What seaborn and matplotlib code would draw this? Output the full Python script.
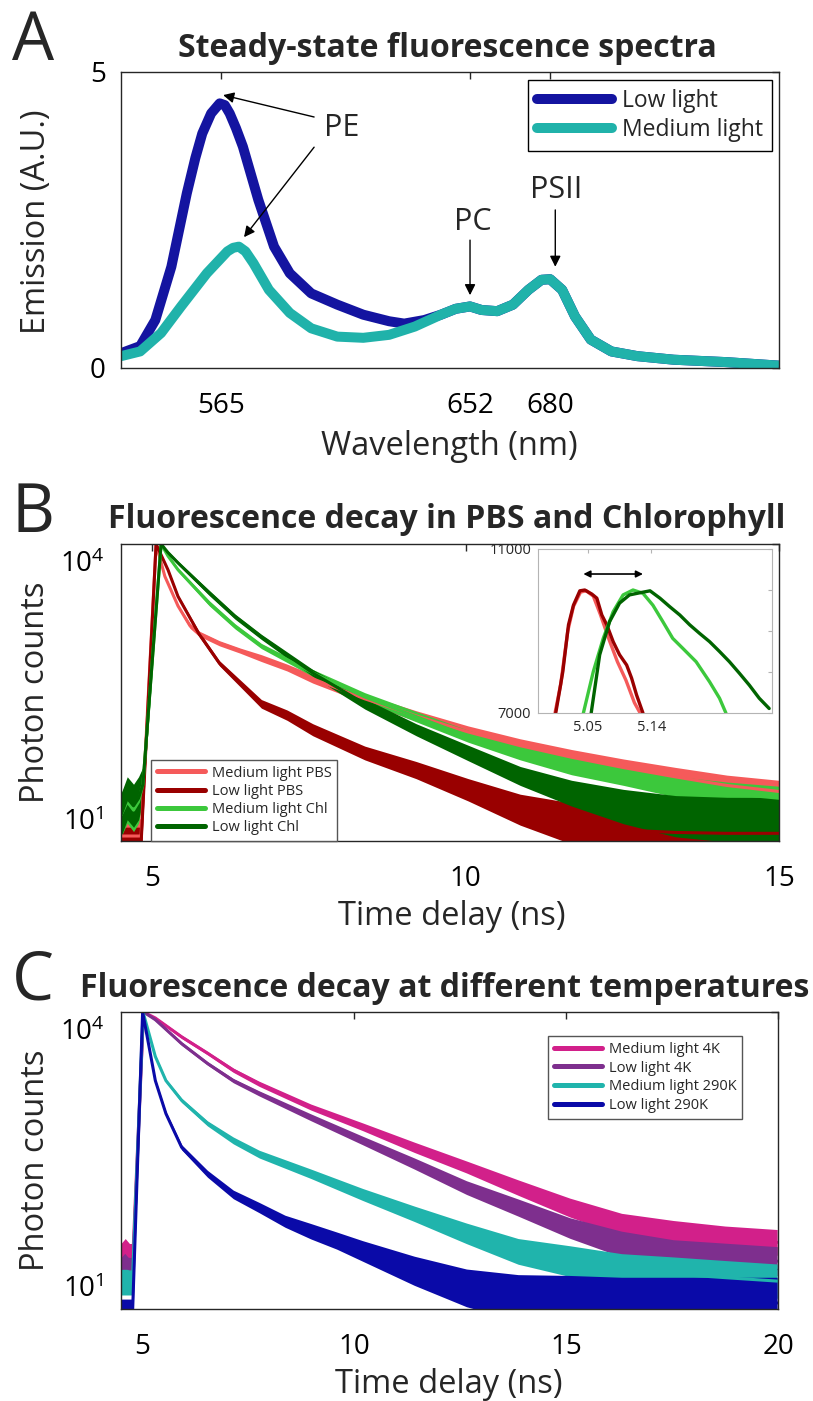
import numpy as np
import matplotlib
matplotlib.use('Agg')
import matplotlib.pyplot as plt
import matplotlib.transforms as mtransforms
from matplotlib.lines import Line2D
from matplotlib.ticker import NullLocator
import seaborn as sns

# ---------------- Panel A: steady-state spectra ----------------
wl_low = [530, 536.7, 542, 547.6, 553, 556, 558.4, 561.5, 564.5, 566.3, 568, 570.2, 572.6,
          578, 583.5, 589, 596.5, 605.6, 614.7, 623.7, 629, 636, 641.8, 647, 652, 656,
          661.5, 667, 672.4, 677, 680, 684.2, 688.7, 694.2, 701.4, 710.5, 723.2, 741.3, 760]
em_low = [0.25, 0.37, 0.81, 1.71, 2.95, 3.55, 3.96, 4.30, 4.47, 4.44, 4.30, 4.05, 3.74,
          2.84, 2.05, 1.60, 1.26, 1.07, 0.90, 0.79, 0.75, 0.81, 0.90, 1.0, 1.04, 0.98,
          0.96, 1.07, 1.32, 1.49, 1.50, 1.32, 0.87, 0.48, 0.28, 0.20, 0.14, 0.10, 0.04]
wl_med = [530, 536.7, 544, 551, 560, 567.2, 569.2, 571.2, 573.5, 576.3, 581.7, 589, 596.5,
          605.6, 614.7, 623.7, 632.7, 641.8, 647, 652, 656, 661.5, 667, 672.4, 677, 680,
          684.2, 688.7, 694.2, 701.4, 710.5, 723.2, 741.3, 760]
em_med = [0.20, 0.28, 0.59, 1.04, 1.60, 1.97, 2.03, 2.05, 1.97, 1.77, 1.32, 0.93, 0.67,
          0.53, 0.51, 0.56, 0.70, 0.90, 1.0, 1.04, 0.98, 0.96, 1.07, 1.32, 1.49, 1.50,
          1.32, 0.87, 0.48, 0.28, 0.20, 0.14, 0.10, 0.04]
wl_ticks = [565, 652, 680]

# ---------------- Panel B: decays in PBS / Chl ----------------
# counts, spread = half width of the noise band (decades)
t_mp = [4.50, 4.82, 5.06, 5.20, 5.41, 5.60, 5.74, 6.07, 6.40, 6.74, 7.15, 7.56, 8.39,
        9.21, 10.04, 10.87, 11.69, 12.52, 13.35, 14.17, 15.0]
n_mp = [4, 4, 10000, 4200, 1900, 1120, 910, 700, 575, 470, 365, 270, 158,
        100, 65, 45, 33, 25, 19.5, 15.5, 13.2]
s_mp = [0.2, 0.2, 0.0, 0.02, 0.02, 0.03, 0.03, 0.03, 0.03, 0.04, 0.04, 0.05, 0.05,
        0.06, 0.07, 0.08, 0.09, 0.10, 0.11, 0.12, 0.13]

t_lp = [4.50, 4.82, 5.06, 5.25, 5.41, 5.74, 6.07, 6.40, 6.74, 7.15, 7.56, 8.39, 9.21,
        10.04, 10.87, 11.69, 12.52, 13.35, 14.17, 15.0]
n_lp = [3.2, 3.2, 10000, 5000, 2450, 910, 410, 240, 138, 102, 69, 37, 23.4,
        13.8, 8.1, 5.6, 4.7, 4.4, 4.3, 4.3]
s_lp = [0.2, 0.2, 0.0, 0.02, 0.02, 0.03, 0.03, 0.04, 0.05, 0.06, 0.07, 0.08, 0.10,
        0.13, 0.18, 0.24, 0.28, 0.3, 0.3, 0.3]

t_mc = [4.50, 4.60, 4.70, 4.78, 4.85, 5.14, 5.25, 5.41, 5.91, 6.32, 6.74, 7.56, 8.39,
        9.21, 10.04, 10.87, 11.69, 12.52, 13.35, 14.17, 15.0]
n_mc = [7, 10, 8, 10, 16, 10000, 7240, 5010, 2040, 1100, 650, 316, 166,
        98, 58, 37, 26, 20, 15, 12.6, 11]
s_mc = [0.25, 0.25, 0.25, 0.25, 0.2, 0.0, 0.02, 0.02, 0.03, 0.03, 0.03, 0.04, 0.05,
        0.06, 0.07, 0.08, 0.10, 0.11, 0.12, 0.13, 0.14]

t_lc = [4.50, 4.60, 4.70, 4.78, 4.85, 5.14, 5.25, 5.41, 5.91, 6.32, 6.74, 7.56, 8.39,
        9.21, 10.04, 10.87, 11.69, 12.52, 13.35, 14.17, 15.0]
n_lc = [7, 11, 9, 11, 16, 10000, 7940, 6030, 2690, 1430, 830, 316, 138,
        69, 37, 20, 12.6, 8.8, 6.8, 6.2, 5.9]
s_lc = [0.25, 0.25, 0.25, 0.25, 0.2, 0.0, 0.02, 0.02, 0.03, 0.03, 0.03, 0.04, 0.06,
        0.07, 0.09, 0.11, 0.15, 0.20, 0.24, 0.26, 0.28]

# inset (linear counts around the peak)
ti_lp = [5.005, 5.011, 5.015, 5.023, 5.030, 5.039, 5.046, 5.056, 5.063, 5.070, 5.077,
         5.086, 5.095, 5.105, 5.112, 5.119, 5.128]
ni_lp = [7000, 7600, 8010, 9150, 9630, 9980, 10000, 9900, 9800, 9390, 9150,
         8740, 8420, 8170, 7850, 7440, 7000]
ti_mp = [5.004, 5.012, 5.022, 5.030, 5.040, 5.048, 5.058, 5.068, 5.080, 5.092, 5.104,
         5.116, 5.124]
ni_mp = [7000, 7700, 9000, 9600, 9950, 9980, 9850, 9400, 8800, 8250, 7800, 7250, 7000]
ti_mc = [5.044, 5.058, 5.072, 5.086, 5.100, 5.114, 5.128, 5.142, 5.156, 5.170, 5.184,
         5.203, 5.222, 5.236, 5.245]
ni_mc = [7000, 8010, 8820, 9470, 9880, 10000, 9920, 9630, 9230, 8820, 8580, 8250,
         7760, 7360, 7000]
ti_lc = [5.055, 5.067, 5.081, 5.095, 5.109, 5.123, 5.138, 5.152, 5.166, 5.180, 5.194,
         5.208, 5.222, 5.236, 5.250, 5.264, 5.278, 5.292, 5.306]
ni_lc = [7000, 8420, 9230, 9680, 9880, 9930, 9980, 9800, 9590, 9390, 9150, 8940,
         8740, 8500, 8250, 7970, 7680, 7360, 7110]

# ---------------- Panel C: decays at 4K / 290K ----------------
t_4k = [4.50, 4.60, 4.70, 4.78, 5.03, 5.31, 5.93, 6.54, 7.15, 7.76, 8.98, 10.20, 11.42,
        12.65, 13.87, 15.09, 16.31, 17.53, 18.75, 19.98]
n_m4 = [14, 16, 14, 14, 10000, 8510, 5130, 3310, 2090, 1450, 776, 457, 263,
        155, 89, 52, 33, 26, 22.4, 20.4]
s_m4 = [0.15, 0.15, 0.15, 0.15, 0.0, 0.015, 0.02, 0.02, 0.025, 0.03, 0.035, 0.045, 0.06,
        0.07, 0.09, 0.11, 0.13, 0.15, 0.15, 0.15]
n_l4 = [10, 11, 10, 10, 10000, 8130, 4270, 2510, 1580, 1120, 589, 316, 170,
        89, 52, 30, 19.5, 14.8, 13.5, 12.3]
s_l4 = [0.15, 0.15, 0.15, 0.15, 0.0, 0.015, 0.02, 0.02, 0.025, 0.03, 0.04, 0.05, 0.065,
        0.08, 0.10, 0.12, 0.15, 0.17, 0.17, 0.17]

t_m290 = [4.50, 4.60, 4.70, 4.77, 5.02, 5.31, 5.56, 5.93, 6.54, 7.15, 7.76, 8.98, 10.20,
          11.42, 12.65, 13.87, 15.09, 16.31, 17.53, 18.75, 19.98]
n_m290 = [7, 7, 7, 7, 10000, 3020, 1580, 930, 500, 316, 219, 129, 74,
          44, 26, 16, 12.3, 9.5, 8.7, 7.9, 7.2]
s_m290 = [0.15, 0.15, 0.15, 0.15, 0.0, 0.02, 0.02, 0.025, 0.03, 0.04, 0.045, 0.055, 0.07,
          0.09, 0.12, 0.15, 0.18, 0.2, 0.2, 0.2, 0.2]

t_l290 = [4.50, 4.77, 5.01, 5.31, 5.56, 5.93, 6.54, 7.15, 7.76, 8.37, 8.98, 9.59, 10.20,
          11.42, 12.65, 13.87, 15.09, 16.31, 17.53, 18.75, 19.98]
n_l290 = [2.8, 2.8, 10000, 1580, 650, 263, 129, 74, 52, 36, 27.5, 21.4, 16.2,
          9.5, 6.0, 4.6, 4.2, 4.0, 4.0, 4.0, 4.0]
s_l290 = [0.2, 0.2, 0.0, 0.02, 0.025, 0.03, 0.04, 0.05, 0.06, 0.07, 0.09, 0.10, 0.12,
          0.17, 0.22, 0.27, 0.3, 0.3, 0.3, 0.3, 0.3]

# colours
c_low_a, c_med_a = '#1414a0', '#20b2aa'
c_mp, c_lp, c_mc, c_lc = '#f55a5a', '#990000', '#3cc83c', '#006400'
c_m4, c_l4, c_m290, c_l290 = '#d2208a', '#7e2f8e', '#20b4ac', '#0a0aa8'

sns.set_theme(style='white')
plt.rcParams['font.family'] = ['Open Sans', 'DejaVu Sans']
plt.rcParams['mathtext.fontset'] = 'custom'
plt.rcParams['mathtext.rm'] = 'Open Sans'
plt.rcParams['mathtext.it'] = 'Open Sans:italic'
plt.rcParams['mathtext.bf'] = 'Open Sans:bold'

W, H = 813, 1401
fig = plt.figure(figsize=(W / 100, H / 100), dpi=100)


def px_axes(x0, y0, x1, y1):
    return fig.add_axes([x0 / W, 1 - y1 / H, (x1 - x0) / W, (y1 - y0) / H])


def fx(x):
    return x / W


def fy(y):
    return 1 - y / H


def style(ax, xpad=17, ypad=11):
    for s in ax.spines.values():
        s.set_visible(True)
        s.set_color('#262626')
        s.set_linewidth(1.0)
    ax.tick_params(direction='in', length=5, width=1, top=True, right=True,
                   color='#262626', labelsize=20, labelcolor='black')
    ax.tick_params(axis='x', pad=xpad)
    ax.tick_params(axis='y', pad=ypad)
    ax.grid(False)
    ax.set_facecolor('white')


def decay(ax, t, n, s, color, lw=2.2):
    t, n, s = np.array(t), np.array(n, float), np.array(s)
    ax.fill_between(t, n / 10 ** s, n * 10 ** s, color=color, lw=0)
    sns.lineplot(x=t, y=n, ax=ax, color=color, lw=lw, legend=False)


title_kw = dict(fontweight='bold', fontsize=23, ha='center', va='baseline')

# ---- A ----
axA = px_axes(121, 72, 779, 368)
style(axA)
sns.lineplot(x=wl_low, y=em_low, ax=axA, color=c_low_a, lw=7.2, legend=False,
             solid_joinstyle='round', solid_capstyle='butt')
sns.lineplot(x=wl_med, y=em_med, ax=axA, color=c_med_a, lw=7.2, legend=False,
             solid_joinstyle='round', solid_capstyle='butt')
axA.set_xlim(530, 760)
axA.set_ylim(0, 5)
axA.set_xticks(wl_ticks)
axA.set_yticks([0, 5])
axA.set_xlabel('')
axA.set_ylabel('')
arrow = dict(arrowstyle='-|>', color='black', lw=1.0, mutation_scale=16, shrinkA=0, shrinkB=0)
axA.text(607, 4.05, 'PE', fontsize=22, ha='center', va='center')
axA.annotate('', xy=(565.7, 4.61), xytext=(597.5, 4.24), arrowprops=arrow)
axA.annotate('', xy=(573, 2.21), xytext=(597.5, 3.73), arrowprops=arrow)
axA.text(652.8, 2.47, 'PC', fontsize=22, ha='center', va='center')
axA.annotate('', xy=(652, 1.23), xytext=(652, 2.16), arrowprops=arrow)
axA.text(682, 3.01, 'PSII', fontsize=22, ha='center', va='center')
axA.annotate('', xy=(681.8, 1.71), xytext=(681.8, 2.67), arrowprops=arrow)
legA = axA.legend([Line2D([], [], color=c_low_a, lw=7.2), Line2D([], [], color=c_med_a, lw=7.2)],
                  ['Low light', 'Medium light'], loc='upper right', bbox_to_anchor=(0.989, 0.973),
                  borderaxespad=0, fontsize=16.5, handlelength=3.3, handletextpad=0.4,
                  borderpad=0.4, labelspacing=0.22, frameon=True, fancybox=False,
                  edgecolor='black', framealpha=1)
legA.get_frame().set_linewidth(1.0)

# ---- B ----
axB = px_axes(121, 544, 779, 841)
style(axB, ypad=12)
axB.set_yscale('log')
decay(axB, t_mp, n_mp, s_mp, c_mp)
decay(axB, t_lp, n_lp, s_lp, c_lp)
decay(axB, t_mc, n_mc, s_mc, c_mc)
decay(axB, t_lc, n_lc, s_lc, c_lc)
axB.set_xlim(4.5, 15)
axB.set_ylim(3.5, 1e4)
axB.set_xticks([5, 10, 15])
axB.set_yticks([10, 1e4])
axB.yaxis.set_minor_locator(NullLocator())
axB.set_xlabel('')
axB.set_ylabel('')
legB = axB.legend([Line2D([], [], color=c, lw=3.6) for c in (c_mp, c_lp, c_mc, c_lc)],
                  ['Medium light PBS', 'Low light PBS', 'Medium light Chl', 'Low light Chl'],
                  loc='lower left', bbox_to_anchor=(0.046, 0.0), borderaxespad=0, fontsize=10.5,
                  handlelength=3.3, handletextpad=0.45, borderpad=0.4, labelspacing=0.22,
                  frameon=True, fancybox=False, edgecolor='#555555', framealpha=1)
legB.get_frame().set_linewidth(1.0)

# inset
axI = px_axes(538, 549, 772, 713)
for s in axI.spines.values():
    s.set_visible(True)
    s.set_color('#b4b4b4')
    s.set_linewidth(0.8)
axI.tick_params(direction='in', length=3, width=0.8, top=True, right=True, color='#b4b4b4',
                labelsize=10.5, labelcolor='#262626', pad=5)
sns.lineplot(x=ti_mp, y=ni_mp, ax=axI, color=c_mp, lw=2.4, legend=False)
sns.lineplot(x=ti_lp, y=ni_lp, ax=axI, color=c_lp, lw=2.4, legend=False)
sns.lineplot(x=ti_mc, y=ni_mc, ax=axI, color=c_mc, lw=2.4, legend=False)
sns.lineplot(x=ti_lc, y=ni_lc, ax=axI, color=c_lc, lw=2.4, legend=False)
axI.set_xlim(4.98, 5.31)
axI.set_ylim(7000, 11000)
axI.set_xticks([5.05, 5.14])
axI.set_xticklabels(['5.05', '5.14'])
axI.set_yticks([7000, 8000, 9000, 10000, 11000])
axI.set_yticklabels(['7000', '', '', '', '11000'])
axI.set_xlabel('')
axI.set_ylabel('')
axI.annotate('', xy=(5.044, 10390), xytext=(5.128, 10390),
             arrowprops=dict(arrowstyle='<|-|>', color='black', lw=1.2, mutation_scale=10,
                             shrinkA=0, shrinkB=0))

# ---- C ----
axC = px_axes(121, 1012, 778, 1309)
style(axC, ypad=12)
axC.set_yscale('log')
decay(axC, t_4k, n_m4, s_m4, c_m4)
decay(axC, t_4k, n_l4, s_l4, c_l4)
decay(axC, t_m290, n_m290, s_m290, c_m290)
decay(axC, t_l290, n_l290, s_l290, c_l290)
axC.set_xlim(4.5, 20)
axC.set_ylim(3.4, 1e4)
axC.set_xticks([5, 10, 15, 20])
axC.set_yticks([10, 1e4])
axC.yaxis.set_minor_locator(NullLocator())
axC.set_xlabel('')
axC.set_ylabel('')
legC = axC.legend([Line2D([], [], color=c, lw=3.6) for c in (c_m4, c_l4, c_m290, c_l290)],
                  ['Medium light 4K', 'Low light 4K', 'Medium light 290K', 'Low light 290K'],
                  loc='upper left', bbox_to_anchor=(0.650, 0.919), borderaxespad=0, fontsize=10.5,
                  handlelength=3.3, handletextpad=0.45, borderpad=0.4, labelspacing=0.25,
                  frameon=True, fancybox=False, edgecolor='#555555', framealpha=1)
legC.get_frame().set_linewidth(1.0)

# log tick labels sit a bit below their ticks in the original
off = mtransforms.ScaledTranslation(0, -0.17, fig.dpi_scale_trans)
for ax in (axB, axC):
    for lab in ax.get_yticklabels():
        lab.set_transform(lab.get_transform() + off)

# ---- texts ----
fig.text(fx(447), fy(57), 'Steady-state fluorescence spectra', **title_kw)
fig.text(fx(447), fy(528), 'Fluorescence decay in PBS and Chlorophyll', **title_kw)
fig.text(fx(445), fy(997), 'Fluorescence decay at different temperatures', **title_kw)
for letter, yb in (('A', 60), ('B', 532), ('C', 1000)):
    fig.text(fx(12), fy(yb), letter, fontsize=48, ha='left', va='baseline')

fig.text(fx(449), fy(455), 'Wavelength (nm)', fontsize=23.5, ha='center', va='baseline')
fig.text(fx(452), fy(925), 'Time delay (ns)', fontsize=23.5, ha='center', va='baseline')
fig.text(fx(449), fy(1393), 'Time delay (ns)', fontsize=23.5, ha='center', va='baseline')
fig.text(fx(37), fy(222), 'Emission (A.U.)', fontsize=23.5, rotation=90, ha='center', va='center')
fig.text(fx(36), fy(692), 'Photon counts', fontsize=23.5, rotation=90, ha='center', va='center')
fig.text(fx(36), fy(1160), 'Photon counts', fontsize=23.5, rotation=90, ha='center', va='center')

fig.savefig('out.png', dpi=100)
